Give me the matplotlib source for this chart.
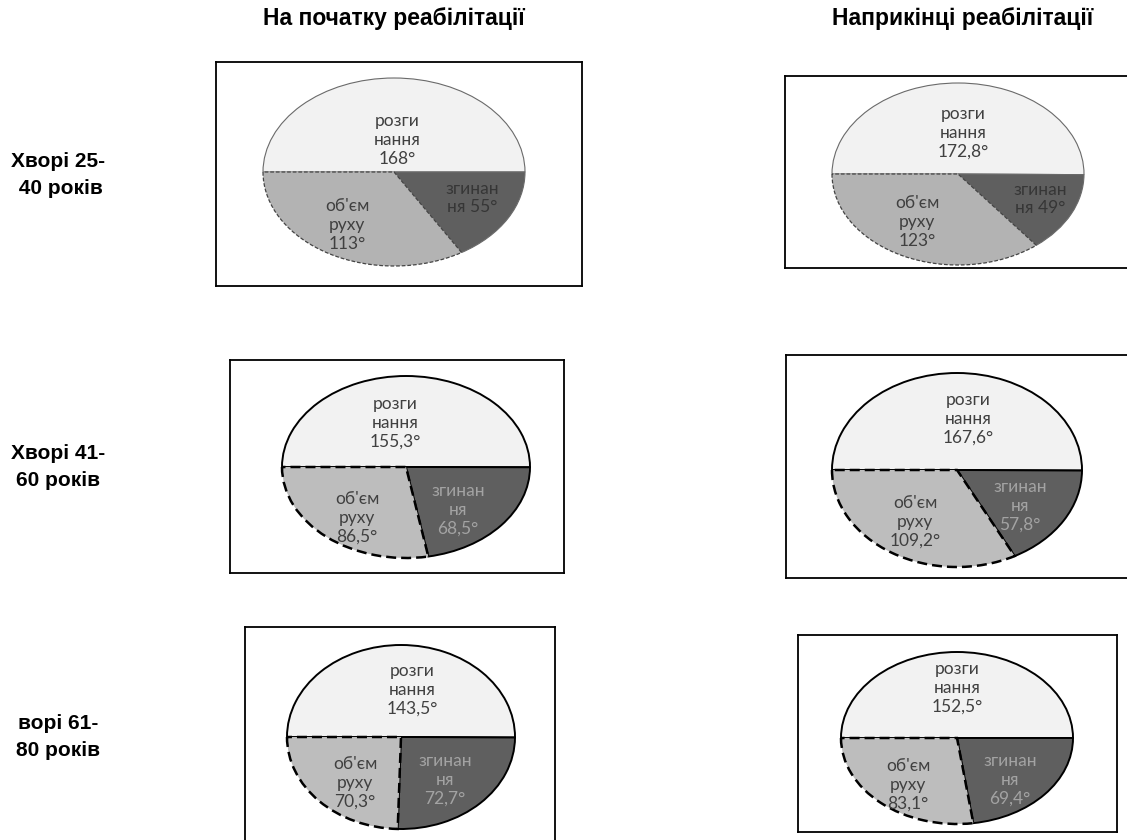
import matplotlib
matplotlib.use('Agg')
import matplotlib.pyplot as plt

W, H = 1127, 840

col_titles = ['На початку реабілітації', 'Наприкінці реабілітації']
row_titles = ['Хворі 25-\n 40 років', 'Хворі 41-\n60 років', 'ворі 61-\n80 років']

# order of panels: row by row, left = start, right = end of rehabilitation
extension = [168, 172.8, 155.3, 167.6, 143.5, 152.5]   # розгинання
flexion = [55, 49, 68.5, 57.8, 72.7, 69.4]              # згинання
motion = [113, 123, 86.5, 109.2, 70.3, 83.1]            # об'єм руху


def fmt(v):
    return ('%g' % v).replace('.', ',') + '°'


# layout in pixels: frame box, ellipse (cx, cy, a, b), label centres
boxes = [(216, 62, 582, 286), (785, 76, 1130, 268),
         (230, 360, 564, 573), (786, 355, 1130, 578),
         (245, 627, 555, 845), (798, 635, 1117, 832)]
ellipses = [(394, 172, 131, 94), (958, 174, 126, 91),
            (406, 467, 124, 91), (957, 470, 125, 97),
            (401, 737, 114, 92), (957, 738, 116, 86)]
lab_pos = [[(397, 140), (472, 198), (347, 225)],
           [(963, 133), (1040, 199), (917, 222)],
           [(395, 423), (458, 510), (357, 518)],
           [(968, 419), (1020, 506), (915, 522)],
           [(412, 690), (445, 780), (355, 783)],
           [(957, 688), (1010, 780), (908, 785)]]

title_font = ['Liberation Sans', 'DejaVu Sans']
pie_font = ['Lato', 'DejaVu Sans']

fig = plt.figure(figsize=(W / 100, H / 100), dpi=100)
fig.patch.set_facecolor('white')

fig.text(394 / W, 1 - 18 / H, col_titles[0], ha='center', va='center',
         fontsize=16.5, fontweight='bold', family=title_font)
fig.text(963 / W, 1 - 18 / H, col_titles[1], ha='center', va='center',
         fontsize=16.5, fontweight='bold', family=title_font)
for i, t in enumerate(row_titles):
    yc = [175, 467, 737][i]
    fig.text(58 / W, 1 - yc / H, t, ha='center', va='center',
             fontsize=15, fontweight='bold', family=title_font,
             linespacing=1.5)

for k in range(6):
    x0, y0, x1, y1 = boxes[k]
    cx, cy, a, b = ellipses[k]
    ax = fig.add_axes([x0 / W, 1 - y1 / H, (x1 - x0) / W, (y1 - y0) / H])
    first = k < 2
    vals = [extension[k], flexion[k], motion[k]]
    mid = '#b3b3b3' if first else '#bdbdbd'
    wedges, _ = ax.pie(vals, colors=['#f2f2f2', '#5f5f5f', mid],
                       startangle=180, counterclock=False, radius=1,
                       wedgeprops=dict(edgecolor='#6a6a6a' if first else 'black',
                                       linewidth=0.8 if first else 1.4))
    wedges[2].set_linestyle((0, (3, 1.5)) if first else (0, (4, 2)))
    wedges[2].set_linewidth(0.9 if first else 1.8)
    wedges[2].set_edgecolor('#444444' if first else 'black')
    wedges[2].set_zorder(3)
    ax.set_aspect('auto')
    ax.set_xlim((x0 - cx) / a, (x1 - cx) / a)
    ax.set_ylim((cy - y1) / b, (cy - y0) / b)
    ax.set_frame_on(True)
    for s in ax.spines.values():
        s.set_visible(True)
        s.set_color('black')
        s.set_linewidth(1.3)
    ax.set_xticks([])
    ax.set_yticks([])

    if first:
        flex_txt = 'згинан\nня ' + fmt(flexion[k])
        flex_col = '#363636'
    else:
        flex_txt = 'згинан\nня\n' + fmt(flexion[k])
        flex_col = '#a3a3a3'
    texts = ['розги\nнання\n' + fmt(extension[k]), flex_txt,
             "об'єм\nруху\n" + fmt(motion[k])]
    cols = ['#404040', flex_col, '#404040']
    for t, (lx, ly), c in zip(texts, lab_pos[k], cols):
        ax.text((lx - cx) / a, (cy - ly) / b, t, ha='center', va='center',
                fontsize=12.5, color=c, family=pie_font, linespacing=1.2,
                zorder=5)

fig.savefig('out.png', dpi=100)
